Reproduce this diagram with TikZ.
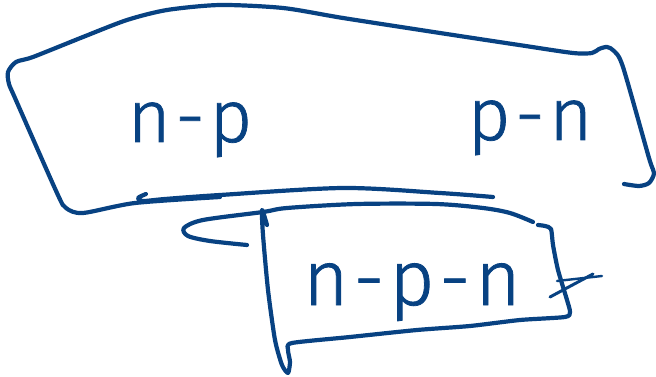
\documentclass[tikz,border=0pt]{standalone}
\usepackage{fontspec}
\newfontfamily\handfont[LetterSpace=6,FakeBold=1]{Fira Sans Light}
\definecolor{ink}{RGB}{8,66,130}
\begin{document}
\begin{tikzpicture}[x=1pt,y=-1pt,
  pen/.style={draw=ink,line width=4.2pt,line cap=round,line join=round},
  label/.style={text=ink,font=\handfont\fontsize{74}{74}\selectfont,anchor=base,inner sep=0pt}]
\useasboundingbox (0,0) rectangle (656,377);

% upper outline
\draw[pen] plot[smooth,tension=0.45] coordinates {
  (624,184) (639,186) (649,183) (654,173) (649,158) (623,67) (614,51) (607,47)
  (599,49) (592,53) (573,53) (519,45) (440,33) (343,18) (283,8) (220,5) (167,10)
  (127,20) (83,37) (33,57) (16,62) (8,72) (9,84) (15,98) (57,193) (66,208)
  (83,213) (135,203) (220,197)};
% retraced lower edge of the upper outline
\draw[pen] plot[smooth,tension=0.5] coordinates {
  (146,194) (138,198) (143,201) (165,199) (220,195) (343,188) (440,193) (493,197)};

% top stroke of the lower outline with its loop
\draw[pen] plot[smooth,tension=0.5] coordinates {
  (533,222) (510,213) (483,208) (436,204) (357,204) (287,208) (263,212)
  (203,220) (184,228) (188,236) (210,241) (247,245)};
% sides and bottom of the lower outline
\draw[pen] plot[smooth,tension=0.4] coordinates {
  (267,225) (262,210) (263,235) (268,290) (275,340) (282,365) (288,373)
  (290,362) (288,350) (292,343) (350,337) (417,330) (470,326) (520,320)
  (565,317) (570,312) (567,300) (558,270) (553,245) (551,229) (545,226) (538,225)};
% marks across the right side
\draw[pen,line width=3pt] (550,297) -- (593,274);
\draw[pen,line width=2.4pt] (557,281) -- (602,276);

% labels
\node[label] (np) at (190,142) {n-p};
\node[label] (pn) at (530,140) {p-n};
\node[label,font=\handfont\fontsize{78}{78}\selectfont] (npn) at (412,305) {n-p-n};
\end{tikzpicture}
\end{document}
